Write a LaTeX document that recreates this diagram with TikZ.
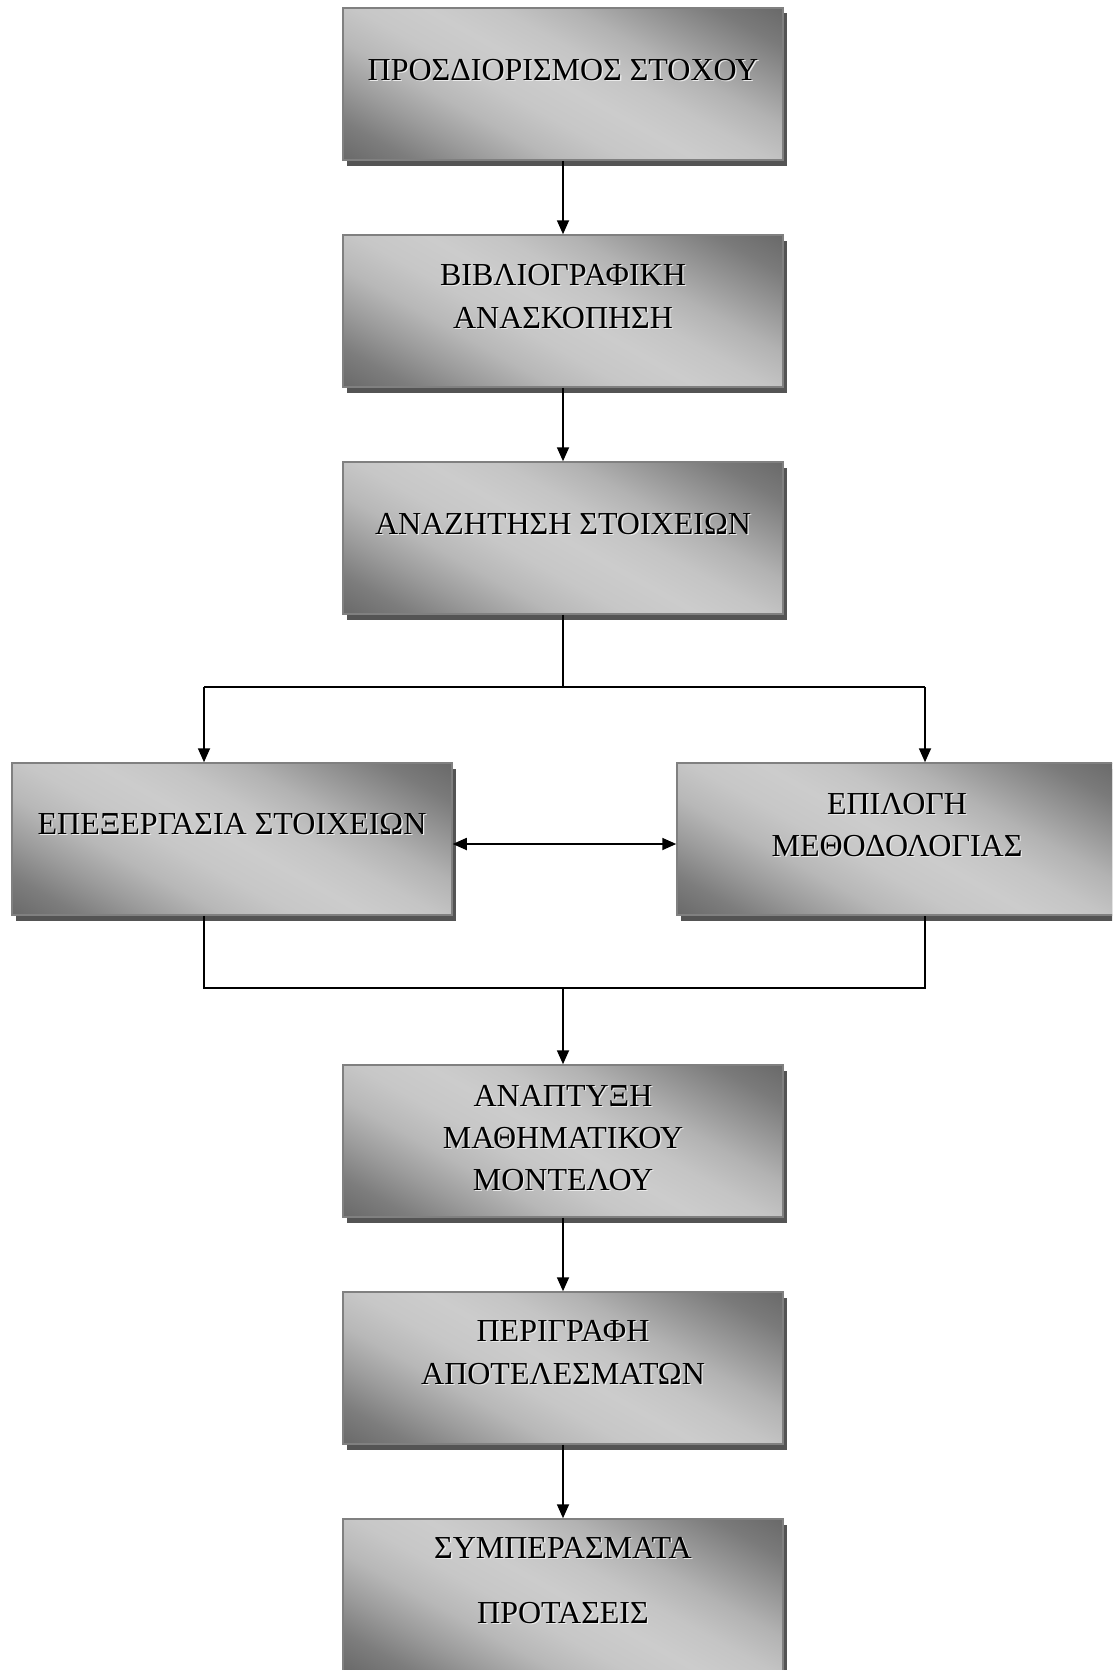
\documentclass[tikz,border=0pt]{standalone}
\usepackage{fontspec}
\setmainfont{Liberation Serif}
\usetikzlibrary{arrows.meta,calc}
\definecolor{g0}{gray}{0.41}
\definecolor{g1}{gray}{0.49}
\definecolor{g2}{gray}{0.61}
\definecolor{g3}{gray}{0.72}
\definecolor{g4}{gray}{0.78}
\definecolor{g5}{gray}{0.80}
\definecolor{g6}{gray}{0.77}
\definecolor{g7}{gray}{0.70}
\definecolor{g8}{gray}{0.59}
\definecolor{g9}{gray}{0.48}
\definecolor{g10}{gray}{0.41}
\definecolor{boxedge}{gray}{0.50}
\definecolor{shadowc}{gray}{0.33}
\pgfdeclareverticalshading{boxshade}{100bp}{color(0bp)=(g0); color(25bp)=(g0); color(30bp)=(g1); color(35bp)=(g2); color(40bp)=(g3); color(45bp)=(g4); color(50bp)=(g5); color(55bp)=(g6); color(60bp)=(g7); color(65bp)=(g8); color(70bp)=(g9); color(75bp)=(g10); color(100bp)=(g10)}
\newcommand{\tline}[2]{\node[tsh] at ($#1+(1.3,1.3)$) {#2};\node[tx] at ($#1$) {#2};}
\newcommand{\mkbox}[2]{%
  \coordinate (#1-c) at #2;
  \fill[shadowc] ($(#1-c)+(-216.5,-70.5)$) rectangle ($(#1-c)+(223.5,81.5)$);
  \begin{scope}
    \clip ($(#1-c)+(-220,-76)$) rectangle ($(#1-c)+(220,76)$);
    \begin{scope}[transform canvas={rotate around={-29:(#1-c)}}]
      \shade[shading=boxshade] ($(#1-c)+(-300,-174)$) rectangle ($(#1-c)+(300,174)$);
    \end{scope}
  \end{scope}
  \node[box] (#1) at (#1-c) {};
}
\begin{document}
\begin{tikzpicture}[x=1pt,y=-1pt,
  box/.style={draw=boxedge, line width=1.5pt,
    minimum width=440pt, minimum height=152pt, inner sep=0pt},
  tx/.style={anchor=base, inner sep=0pt, font=\fontsize{32}{38}\selectfont, text=black},
  tsh/.style={tx, text=black!8},
  conn/.style={line width=1.8pt, draw=black},
  arr/.style={conn, -{Triangle[length=14pt,width=12pt]}},
  darr/.style={conn, {Triangle[length=14pt,width=12pt]}-{Triangle[length=14pt,width=12pt]}}]
\clip (0,0) rectangle (1112,1670);
\fill[white] (0,0) rectangle (1112,1670);

\mkbox{b1}{(563,84)}
\mkbox{b2}{(563,311)}
\mkbox{b3}{(563,538)}
\mkbox{bl}{(232,839)}
\mkbox{br}{(897,839)}
\mkbox{b5}{(563,1141)}
\mkbox{b6}{(563,1368)}
\mkbox{b7}{(563,1595)}

\tline{(b1.north)+(0,73)}{ΠΡΟΣΔΙΟΡΙΣΜΟΣ ΣΤΟΧΟΥ}
\tline{(b2.north)+(0,51)}{ΒΙΒΛΙΟΓΡΑΦΙΚΗ}
\tline{(b2.north)+(0,94)}{ΑΝΑΣΚΟΠΗΣΗ}
\tline{(b3.north)+(0,73)}{ΑΝΑΖΗΤΗΣΗ ΣΤΟΙΧΕΙΩΝ}
\tline{(bl.north)+(0,72)}{ΕΠΕΞΕΡΓΑΣΙΑ ΣΤΟΙΧΕΙΩΝ}
\tline{(br.north)+(0,52)}{ΕΠΙΛΟΓΗ}
\tline{(br.north)+(0,94)}{ΜΕΘΟΔΟΛΟΓΙΑΣ}
\tline{(b5.north)+(0,42)}{ΑΝΑΠΤΥΞΗ}
\tline{(b5.north)+(0,84)}{ΜΑΘΗΜΑΤΙΚΟΥ}
\tline{(b5.north)+(0,126)}{ΜΟΝΤΕΛΟΥ}
\tline{(b6.north)+(0,50)}{ΠΕΡΙΓΡΑΦΗ}
\tline{(b6.north)+(0,93)}{ΑΠΟΤΕΛΕΣΜΑΤΩΝ}
\tline{(b7.north)+(0,40)}{ΣΥΜΠΕΡΑΣΜΑΤΑ}
\tline{(b7.north)+(0,105)}{ΠΡΟΤΑΣΕΙΣ}

\coordinate (sp) at (563,687);
\coordinate (spl) at (204,687);
\coordinate (spr) at (925,687);
\coordinate (dy) at (0,844);
\coordinate (jn) at (563,988);

\draw[arr] (b1) -- (b2);
\draw[arr] (b2) -- (b3);
\draw[conn] (b3.south) -- (sp);
\draw[conn] (spl) -- (spr);
\draw[arr] (spl) -- (spl |- bl.north);
\draw[arr] (spr) -- (spr |- br.north);
\draw[darr] (bl.east |- dy) -- (br.west |- dy);
\draw[conn] (spl |- bl.south) -- (spl |- jn) -- (spr |- jn) -- (spr |- br.south);
\draw[arr] (jn) -- (b5);
\draw[arr] (b5) -- (b6);
\draw[arr] (b6) -- (b7);
\end{tikzpicture}
\end{document}
